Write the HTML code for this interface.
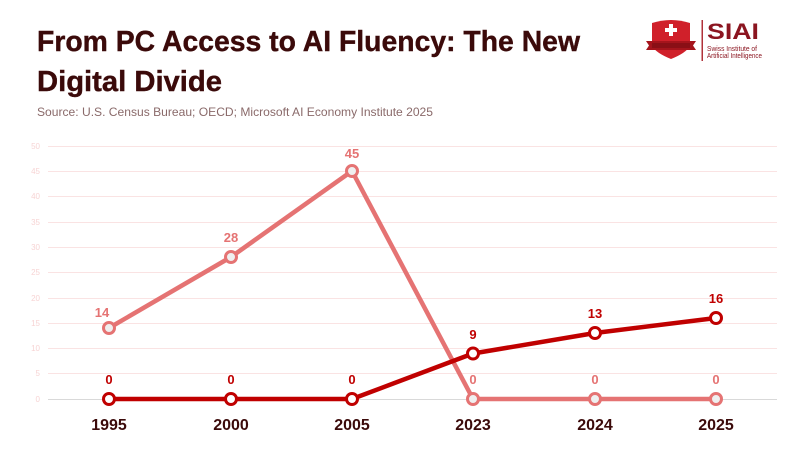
<!DOCTYPE html>
<html>
<head>
<meta charset="utf-8">
<style>
  html, body { margin: 0; padding: 0; background: #ffffff; }
  body { width: 800px; height: 450px; overflow: hidden; }
  svg { display: block; font-family: "Liberation Sans", sans-serif; }
</style>
</head>
<body>
<svg width="800" height="450" viewBox="0 0 800 450" xmlns="http://www.w3.org/2000/svg">
  <rect width="800" height="450" fill="#ffffff"/>

  <!-- Title -->
  <text x="37" y="51" font-size="29" font-weight="bold" fill="#3b0a0a" stroke="#3b0a0a" stroke-width="0.4" textLength="543" lengthAdjust="spacingAndGlyphs">From PC Access to AI Fluency: The New</text>
  <text x="37" y="91" font-size="29" font-weight="bold" fill="#3b0a0a" stroke="#3b0a0a" stroke-width="0.4" textLength="185" lengthAdjust="spacingAndGlyphs">Digital Divide</text>
  <text x="37" y="116" font-size="12" fill="#8a6a6a" textLength="396" lengthAdjust="spacingAndGlyphs">Source: U.S. Census Bureau; OECD; Microsoft AI Economy Institute 2025</text>

  <!-- Logo -->
  <g>
    <path d="M652 23 Q671 17 690 23 L690 46 Q686 53 671 59 Q656 53 652 46 Z" fill="#d0202a"/>
    <path d="M646 41 L696 41 L693 45.5 L696 50 L646 50 L649 45.5 Z" fill="#a5141c"/>
    <rect x="652" y="43" width="38" height="5" fill="#8a0f16"/>
    <rect x="669" y="24" width="4" height="12" fill="#ffffff"/>
    <rect x="665" y="28" width="12" height="4" fill="#ffffff"/>
    <rect x="701.5" y="20" width="1.5" height="41" fill="#b0323a"/>
    <text x="707" y="39" font-size="22" font-weight="bold" fill="#8b1520" textLength="52" lengthAdjust="spacingAndGlyphs">SIAI</text>
    <text x="707" y="51" font-size="7" fill="#8b1520" textLength="50" lengthAdjust="spacingAndGlyphs">Swiss Institute of</text>
    <text x="707" y="58" font-size="7" fill="#8b1520" textLength="55" lengthAdjust="spacingAndGlyphs">Artificial Intelligence</text>
  </g>

  <!-- Gridlines -->
  <g stroke="#fae3e3" stroke-width="1">
    <line x1="48" y1="146.5" x2="777" y2="146.5"/>
    <line x1="48" y1="171.5" x2="777" y2="171.5"/>
    <line x1="48" y1="196.5" x2="777" y2="196.5"/>
    <line x1="48" y1="222.5" x2="777" y2="222.5"/>
    <line x1="48" y1="247.5" x2="777" y2="247.5"/>
    <line x1="48" y1="272.5" x2="777" y2="272.5"/>
    <line x1="48" y1="298.5" x2="777" y2="298.5"/>
    <line x1="48" y1="323.5" x2="777" y2="323.5"/>
    <line x1="48" y1="348.5" x2="777" y2="348.5"/>
    <line x1="48" y1="373.5" x2="777" y2="373.5"/>
  </g>
  <line x1="48" y1="399.5" x2="777" y2="399.5" stroke="#d9d9d9" stroke-width="1"/>

  <!-- Y tick labels -->
  <g font-size="8" fill="#f7d4d4" text-anchor="end">
    <text x="40" y="149">50</text>
    <text x="40" y="174">45</text>
    <text x="40" y="199">40</text>
    <text x="40" y="225">35</text>
    <text x="40" y="250">30</text>
    <text x="40" y="275">25</text>
    <text x="40" y="301">20</text>
    <text x="40" y="326">15</text>
    <text x="40" y="351">10</text>
    <text x="40" y="376">5</text>
    <text x="40" y="402">0</text>
  </g>

  <!-- Light series (PC access) -->
  <polyline points="109,328 231,257 352,171 473,399 595,399 716,399" fill="none" stroke="#e57373" stroke-width="4.5" stroke-linejoin="round"/>
  <!-- Dark series (AI fluency) -->
  <polyline points="109,399 231,399 352,399 473,353.5 595,333 716,318" fill="none" stroke="#c00000" stroke-width="4.5" stroke-linejoin="round"/>

  <!-- Light markers -->
  <g fill="#efefef" stroke="#e57373" stroke-width="3">
    <circle cx="109" cy="328" r="5.5"/>
    <circle cx="231" cy="257" r="5.5"/>
    <circle cx="352" cy="171" r="5.5"/>
    <circle cx="473" cy="399" r="5.5"/>
    <circle cx="595" cy="399" r="5.5"/>
    <circle cx="716" cy="399" r="5.5"/>
  </g>
  <!-- Dark markers -->
  <g fill="#ffffff" stroke="#c00000" stroke-width="3">
    <circle cx="109" cy="399" r="5.5"/>
    <circle cx="231" cy="399" r="5.5"/>
    <circle cx="352" cy="399" r="5.5"/>
    <circle cx="473" cy="353.5" r="5.5"/>
    <circle cx="595" cy="333" r="5.5"/>
    <circle cx="716" cy="318" r="5.5"/>
  </g>

  <!-- Data labels light -->
  <g font-size="13" font-weight="bold" fill="#e57373" text-anchor="middle">
    <text x="102" y="317">14</text>
    <text x="231" y="242">28</text>
    <text x="352" y="158">45</text>
    <text x="473" y="384">0</text>
    <text x="595" y="384">0</text>
    <text x="716" y="384">0</text>
  </g>
  <!-- Data labels dark -->
  <g font-size="13" font-weight="bold" fill="#c00000" text-anchor="middle">
    <text x="109" y="384">0</text>
    <text x="231" y="384">0</text>
    <text x="352" y="384">0</text>
    <text x="473" y="339">9</text>
    <text x="595" y="318">13</text>
    <text x="716" y="303">16</text>
  </g>

  <!-- X axis labels -->
  <g font-size="16" font-weight="bold" fill="#3b0a0a" text-anchor="middle">
    <text x="109" y="430">1995</text>
    <text x="231" y="430">2000</text>
    <text x="352" y="430">2005</text>
    <text x="473" y="430">2023</text>
    <text x="595" y="430">2024</text>
    <text x="716" y="430">2025</text>
  </g>
</svg>
</body>
</html>
